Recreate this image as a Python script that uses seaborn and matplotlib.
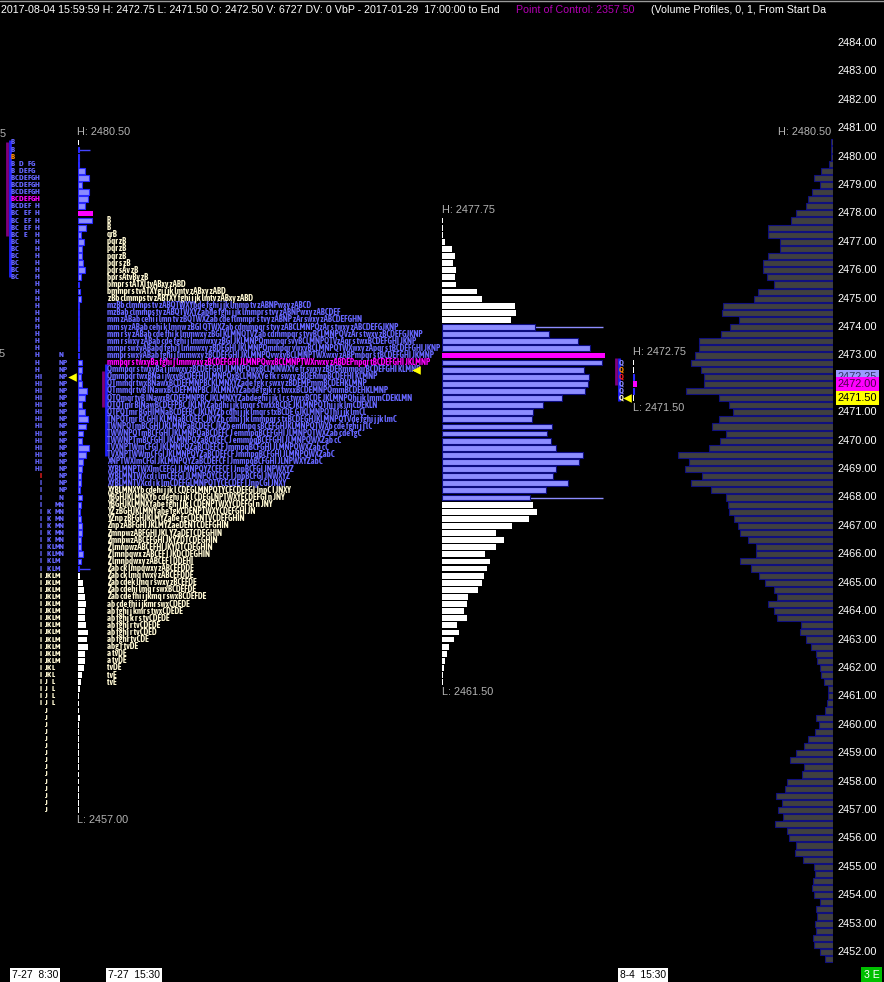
import numpy as np
import pandas as pd
import matplotlib.pyplot as plt
import seaborn as sns
from matplotlib import font_manager
from matplotlib.font_manager import FontProperties
from matplotlib.colors import to_rgba

# canvas in pixels; price scale (2484 at y=43, 2452 at y=952)
W, H = 884, 982
PPX = (952 - 43) / 32.0
Y_TOP = 2484 + 43 / PPX
Y_BOT = Y_TOP - H / PPX

installed = {f.name for f in font_manager.fontManager.ttflist}
SANS = 'Liberation Sans' if 'Liberation Sans' in installed else 'DejaVu Sans'

# ---------------- data ----------------
# right-hand composite volume profile, 2480.50 down to 2451.75 by 0.25
right_top = 2480.50
right_vol = [2, 2, 2, 4, 12, 19, 13, 21, 25, 27, 37, 42,
             65, 65, 53, 53, 65, 70, 70, 66, 59, 75, 79, 110,
             111, 94, 103, 112, 134, 134, 138, 142, 132, 129, 129, 147,
             114, 104, 100, 114, 121, 107, 113, 124, 155, 144, 148, 131,
             142, 122, 107, 105, 104, 99, 95, 93, 85, 77, 77, 93,
             82, 74, 68, 59, 56, 65, 59, 56, 32, 33, 27, 22,
             17, 16, 13, 12, 9, 5, 5, 6, 8, 17, 14, 18,
             25, 29, 37, 43, 29, 31, 46, 48, 57, 51, 55, 50,
             58, 46, 44, 37, 38, 30, 19, 18, 20, 21, 19, 13,
             17, 16, 18, 17, 20, 19, 13, 8]

# middle volume profile, 2477.75 down to 2461.50
mid_top = 2477.75
mid_vol = [1, 1, 1, 3, 10, 13, 11, 14, 13, 14, 35, 40,
           73, 74, 69, 93, 107, 136, 148, 163, 160, 142, 147, 146,
           143, 120, 101, 91, 90, 110, 105, 109, 114, 141, 137, 114,
           111, 126, 104, 88, 91, 95, 87, 70, 54, 62, 54, 43,
           48, 45, 42, 40, 36, 26, 25, 22, 25, 15, 17, 12,
           7, 5, 3, 2, 1, 1]
mid_va = (2468.00, 2474.00)
mid_poc = 2473.00

# left session volume profile, 2480.50 down to 2457.00
left_top = 2480.50
left_vol = [1, 1, 1, 1, 7, 11, 4, 11, 10, 7, 15,
            14, 8, 3, 6, 4, 4, 5, 7, 3, 1, 1.5, 2.5,
            1, 1, 1, 1, 1, 1, 1, 1, 4, 4, 3, 4,
            9, 7, 4, 7, 10, 8, 5, 4, 11, 8, 5, 4,
            3, 2.5, 2, 4, 2.5, 1.7, 2.5, 4, 4, 3, 3, 5,
            2.5, 1, 2, 5, 6, 7, 8, 7, 7, 8, 10, 9,
            10, 7, 7, 6, 4, 3, 2, 1, 1, 1, 2,
            1, 1, 1, 1, 1, 1, 1, 1, 1, 1, 1, 1, 1]
left_va = (2465.50, 2480.25)
left_poc = 2478.00

# last session (8-4) mini profile
small_top = 2472.75
small_vol = [1, 1, 1, 4, 1, 1]
small_va = (2471.75, 2472.25)
small_poc = 2472.00

# left session TPO letters, columns B C D E F G H I J K L M N P
left_tpo = (["B", "B", "B", "B D FG", "B DEFG"] + ["BCDEFGH"] * 4 +
            ["BCDEF H", "BC EF H", "BC EF H", "BC EF H", "BC E  H"] +
            ["BC    H"] * 6 + ["      H"] * 10 +
            ["      H     N", "      H     NP", "      H     NP"] +
            ["      HI    NP"] * 14 + ["       I    NP"] * 3 +
            ["       I    N", "       I   MN"] + ["       I K MN"] * 5 +
            ["       I KLMN"] * 2 + ["       I KLM"] * 2 +
            ["       IJKLM"] * 13 + ["       IJKL"] * 2 +
            ["       IJ L"] * 4 + ["        J"] * 15)
left_tpo_va = (2465.50, 2480.50)
left_tpo_poc = 2478.50

# composite TPO rows, 2477.75 down to 2461.50
mid_tpo = [
    "B", "B", "qrB", "pqr zB", "pqr zB", "pqr zB", "pqr s zB", "pqr sAv zB",
    "bpr sAtvBy zB",
    "bmpr s tATXI tvABxy zABD",
    "bmmpr s tvATXYgi j jk lmtv zABxy zABD",
    " zBb clmmps tv zABTXY fghi j jk lmtv zABxy zABD",
    "mzBb clmmps tv zABQTWXYbde fghi j jk lmmp tv zABNPwxy zABCD",
    "mzBab clmmps tv zABQTWXYZabde fghi j jk lmmpr s tvy zABNPwxy zABCDEF",
    "mm zABab cehi i lmn tv zBQTWXZab cde flmmpr s tvy zABNP zAr swxy zABCDEFGHN",
    "mm sy zABab cehi k lmnw zBGI QTWXZab cdmmpqr s tvy zABCLMNPQzAr s twxy zABCDEFGJKNP",
    "mm r sy zABab cde fhi k lmmwxy zBGI KLMNQTVZab cdmmpqr s tvyBCLMNPQVzAr s twxy zBCDEFGJKNP",
    "mm r swxy zABab cde fghi j lmmwxy zBGI JKLMNPQmmpqr svyBCLMNPQTVzAqr s twxBCDEFGHI JKNP",
    "mmpr swxyABabd fghi j lmmwxy zBDEGHI JKLMNPQmmpqr vwxyBCLMNPQTWXwxy zApqr s tBCDEFGHI JKNP",
    "mmpr swxyABab fghi j lmmwxy zBCDEFGHI JKLMNPQvwxyBCLMNPTWXwxy zABPmpqr s tBCDEFGHI JKMNP",
    "mmpqr s twxyBa fghi j lmmwxy zBCDEFGHI JLMNPQwxBCLMNPTWXrwxy zABDEPnpqr tBCDEFGHI JKLMNP",
    "Qmmpqr s twxyBa i jmwxy zBCDEFGHI JLMNPQwxBCLMNWXYe fr swxy zBDERmmpqrBCDEFGHI KLMNP",
    "Qmmpqr twxBNa i jwxyBCDEFHIJLMNPQxBCLMNXYe fk r swxy zBDERmpBCDEFHI KLMNP",
    "QTmmqr twxBNawxBCDEFMNPBCKLMNXYZade fgk r swxy zBDEMPmmBCDEHKLMNP",
    "QTmmqr tvB INawxBCDEFMNPBC JKLMNXYZabde fgjk r s twxxBCDEMNPQmmBCDEHKLMNP",
    "QTQmqr tvB INawxBCDEFMNPBC JKLMNXYZabdeghi j jk l r s twxxBCDE JKLMNPQhi jk lmmCDEKLMN",
    "QTQTmr BINawBCDEFPBC JKLNYZabdhi j jk lmqr s twxxBCDE JKLMNPQThi j jk lmCDEKLN",
    "QTPQTmr BGHIMNaBCDEFBC JKLNYZb cdhi j jk lmqr s txBCDE GJKLMNPQThi j jk lmCL",
    "TNPQTmr BCGHI KLMNaBCDEFC JKYZb cdhi j jk lmmpqr s txBCDEGHJKLMNPQTVde fghi j jk lmC",
    "TWNPQTmBCGHI JKLMNPaBCDEFC JKZb emmpq sBCEFGHJKLMNPQTWXb cde fghi j j lC",
    "TWWNPQTmBCFGHI JKLMNPQaBCDEFC J emmpqBCEFGHI JLMNPQTWXZab cde fgC",
    "TWWNPTmBCFGHI JKLMNPQZaBCDEFC J emmpqBCEFGHI JLMNPQWXZab cC",
    "TVXNPTWmCFGI JKLMNPQZaBCDEFCF JmmpqBCFGHI JLMNPQWXZab cC",
    "TVXNPTWWmCFGI JKLMNPQYZaBCDEFCF JmmpqBCFGHI JLMNPQWXZabC",
    "XNPTWXImCFGI JKLMNPQYZaBCDEFCF I JmmpqBCFGHI JLNPWXYZabC",
    "XYBLMNPTWXImCEFGI JLMNPQYZCEFCF I JnpBCFGI JNPWXYZ",
    "XYBLMNTWXcd i lmCEFGI JLMNPQYCECF I JnpBCFGI JNWXYZ",
    "XYBLMNTVXcd i k lmCDEFGLMNPQTYCECDEF I JnpCGI JNXY",
    "XYBLMNXYb cdehi j jk l CDEGLMNPQTYCECDEFGI JnpC I JNXY",
    "YBGHJKLMNXYb cdeghi j jk l CDEGLNPTWXYECDEFGI n JNY",
    "YBGHJKLMNXYabe fghi j jk l CDENPTWXYCDEFGI n JNY",
    "YZ zBGHJKLMNYabe fgkCDENPTWXYCDEFGHI JN",
    "YZnp zBFGHJKLMYZabe fgCDENTVCDEFGHIN",
    "Znp zABFGHI JKLMYZaeDENTCDEFGHIN",
    "ZmnpwzABFGHI JKL YZaDETCDEGHIN",
    "ZmnpwzABCEFGHI JKYZDTCDEGHIN",
    "Z lmnpwzABCEFHI JKYDTCDEGHIN",
    "Z lmnpqwx zABCEF I JKDCDEGHIN",
    "Z lmnpqwxy zABCEF I DDEHI",
    "Zab ck lmpqwxy zABCEFDDE",
    "Zab ck lmq rwxy zABCEFDDE",
    "Zab cdek lmq r swxy zBCEFDE",
    "Zab cdehi lmq r swxBCDEFDE",
    "Zab cde fhi i jkmq r swxBCDEFDE",
    "ab cde fhi i jkmr swxCDEDE",
    "ab fghi j kmr s twxCDEDE",
    "ab fghj k r s tvCDEDE",
    "ab fghj r tvCDEDE",
    "ab fghj r tvCDED",
    "ab fghr tvCDE",
    "abg r tvDE",
    "a tvDE", "a tvDE", "tvDE", "tvE", "tvE"]
mid_tpo_va = (2468.50, 2474.75)
mid_tpo_poc = 2472.75
MID_TPO_WIDTH = 324   # pixel width of the POC row in the reference

# last session TPO
small_tpo = ["Q", "Q", "Q", "Q", "Q", "Q"]
small_tpo_colors = ['#8c8cff', '#ff8c00', '#ff2020', '#8c8cff', '#8c8cff', '#fff8d2']

# high / low labels: (x, high, low)
hl_labels = [(77, 2480.50, 2457.00), (442, 2477.75, 2461.50), (633, 2472.75, 2471.50)]

price_ticks = list(range(2452, 2485))
time_labels = [(12, '7-27  8:30'), (108, '7-27  15:30'), (620, '8-4  15:30')]

# ---------------- drawing ----------------
sns.set_theme(style='dark', rc={'axes.facecolor': 'black', 'figure.facecolor': 'black'})

# a narrow bold face for the dense TPO letters, if one is installed
narrow = [f for f in font_manager.fontManager.ttflist
          if ('condensed' in str(f.stretch) or 'Narrow' in f.name or 'Condensed' in f.name)
          and f.style == 'normal']
narrow.sort(key=lambda f: (str(f.weight) not in ('bold', '700'), f.name))
if narrow:
    TPO_FONT = FontProperties(fname=narrow[0].fname)
else:
    TPO_FONT = FontProperties(family=SANS, weight='bold')
HEAD_FONT = FontProperties(family=SANS)

BLUE_TXT = '#6666ff'
PALE = '#fff8d2'
LAV = '#8c8cff'
MAG = '#ff00ff'

fig = plt.figure(figsize=(W / 100, H / 100), dpi=100)
fig.patch.set_facecolor('black')
ax = fig.add_axes([0, 0, 1, 1])
ax.set_xlim(0, W)
ax.set_ylim(Y_BOT, Y_TOP)
ax.axis('off')


def profile(x0, span, top, vols, va, poc, colors, edges, height, leftward=False):
    prices = top - 0.25 * np.arange(len(vols))
    zone = np.where(prices == poc, 'poc',
                    np.where((prices >= va[0]) & (prices <= va[1]), 'va', 'out'))
    df = pd.DataFrame({'price': prices, 'vol': vols, 'zone': zone})
    a = fig.add_axes([x0 / W, 0, span / W, 1])
    a.patch.set_alpha(0)
    sns.barplot(data=df, x='vol', y='price', hue='zone', palette=colors, orient='y',
                native_scale=True, dodge=False, width=height, errorbar=None,
                saturation=1, legend=False, ax=a)
    for p in a.patches:
        for k, c in colors.items():
            if np.allclose(p.get_facecolor(), to_rgba(c)):
                if edges[k] is None:
                    p.set_linewidth(0)
                else:
                    p.set_edgecolor(edges[k])
                    p.set_linewidth(0.8)
    a.set_xlim((span, 0) if leftward else (0, span))
    a.set_ylim(Y_BOT, Y_TOP)
    a.axis('off')
    return a


profile(676, 157, right_top, right_vol, (0, 0), 0,
        {'out': '#404040'}, {'out': '#10107e'}, 0.86, leftward=True)
profile(442, 170, mid_top, mid_vol, mid_va, mid_poc,
        {'out': 'white', 'va': LAV, 'poc': MAG},
        {'out': None, 'va': '#0c0c80', 'poc': None}, 0.82)
profile(78, 24, left_top, left_vol, left_va, left_poc,
        {'out': 'white', 'va': LAV, 'poc': MAG},
        {'out': None, 'va': '#2a2aff', 'poc': None}, 0.82)
profile(633, 8, small_top, small_vol, small_va, small_poc,
        {'out': 'white', 'va': LAV, 'poc': MAG},
        {'out': None, 'va': '#2a2aff', 'poc': None}, 0.82)

# value area lines
ax.hlines(list(mid_va), 442, 603, color=LAV, lw=1)
ax.hlines(list(left_va), 78, 90, color='#4444ff', lw=1)

# range lines next to the TPO columns
ax.vlines(10, 2475.75, 2480.60, color='#2020ff', lw=2)
ax.vlines(7, 2477.20, 2480.50, color='#800080', lw=2)
ax.vlines(106, 2469.45, 2472.70, color='#2020ff', lw=2)
ax.vlines(103, 2471.20, 2472.45, color='#800080', lw=2)
ax.vlines(618.5, 2471.40, 2472.90, color='#2020ff', lw=2)
ax.vlines(615.5, 2471.95, 2472.90, color='#800080', lw=2)

# left session TPO letters in fixed columns
for i, row in enumerate(left_tpo):
    price = left_top - 0.25 * i
    if price == left_tpo_poc:
        col = MAG
    elif left_tpo_va[0] <= price <= left_tpo_va[1]:
        col = BLUE_TXT
    else:
        col = PALE
    for k, ch in enumerate(row):
        if ch == ' ':
            continue
        c = col
        if price == 2480.00 and k == 0:
            c = '#ff8c00'
        if price == 2468.75 and ch == 'I':
            c = '#ff2020'
        ax.text(13 + 4 * k, price, ch, color=c, fontproperties=TPO_FONT, fontsize=6,
                ha='center', va='center')

# composite TPO rows: size the face so the POC row spans the reference width
renderer = fig.canvas.get_renderer()
probe = ax.text(0, 0, mid_tpo[int(round((mid_top - mid_tpo_poc) / 0.25))],
                fontproperties=TPO_FONT, fontsize=10)
probe_w = probe.get_window_extent(renderer).width
probe.remove()
tpo_size = 10 * MID_TPO_WIDTH / probe_w

for i, row in enumerate(mid_tpo):
    price = mid_top - 0.25 * i
    if price == mid_tpo_poc:
        col = MAG
    elif mid_tpo_va[0] <= price <= mid_tpo_va[1]:
        col = BLUE_TXT
    else:
        col = PALE
    ax.text(107, price, row, color=col, fontproperties=TPO_FONT, fontsize=tpo_size,
            ha='left', va='center')

for i, (q, c) in enumerate(zip(small_tpo, small_tpo_colors)):
    ax.text(621, small_top - 0.25 * i, q, color=c, fontproperties=TPO_FONT, fontsize=6,
            ha='center', va='center')

# yellow markers at the last price
ax.scatter([72, 416, 627], [2472.25, 2472.50, 2471.50], marker='<', s=38,
           color='#ffff00', linewidths=0, zorder=5)

# high / low labels
for x, hi, lo in hl_labels:
    ax.text(x, hi + 0.36, f'H: {hi:.2f}', color='#b4b4b4', fontsize=7.8, family=SANS,
            ha='left', va='center')
    ax.text(x, lo - 0.36, f'L: {lo:.2f}', color='#b4b4b4', fontsize=7.8, family=SANS,
            ha='left', va='center')
ax.text(778, right_top + 0.36, f'H: {right_top:.2f}', color='#b4b4b4', fontsize=7.8,
        family=SANS, ha='left', va='center')
ax.text(0, 2480.78, '5', color='#b4b4b4', fontsize=7.8, family=SANS, va='center')
ax.text(-1, 2473.05, '5', color='#b4b4b4', fontsize=7.8, family=SANS, va='center')

# price scale
for v in price_ticks:
    ax.text(838, v, f'{v:.2f}', color='white', fontsize=7.9, family=SANS,
            ha='left', va='center')
ax.text(838, 2472.25, '2472.25', color='#303060', fontsize=7.9, family=SANS, va='center',
        bbox=dict(boxstyle='square,pad=0.15', fc='#9a9aff', ec='none'), zorder=6)
ax.text(838, 2472.00, '2472.00', color='#4a004a', fontsize=7.9, family=SANS, va='center',
        bbox=dict(boxstyle='square,pad=0.15', fc=MAG, ec='none'), zorder=7)
ax.text(838, 2471.50, '2471.50', color='black', fontsize=7.9, family=SANS, va='center',
        bbox=dict(boxstyle='square,pad=0.15', fc='#ffff00', ec='none'), zorder=7)

# header line
hy = 1 - 10 / H
fig.text(1 / W, hy, '2017-08-04 15:59:59 H: 2472.75 L: 2471.50 O: 2472.50 V: 6727 DV: 0 '
         'VbP - 2017-01-29  17:00:00 to End', color='white', fontproperties=HEAD_FONT,
         fontsize=7.7, va='center')
fig.text(516 / W, hy, 'Point of Control: 2357.50', color='#b400b4',
         fontproperties=HEAD_FONT, fontsize=7.7, va='center')
fig.text(651 / W, hy, '(Volume Profiles, 0, 1, From Start Da', color='white',
         fontproperties=HEAD_FONT, fontsize=7.7, va='center')
fig.add_artist(plt.Line2D([0, 1], [1 - 0.5 / H, 1 - 0.5 / H], color='#9a9a9a', lw=1))

# time axis
ty = 1 - 975 / H
for x, lab in time_labels:
    fig.text(x / W, ty, lab, color='black', fontproperties=HEAD_FONT, fontsize=7.4,
             va='center', bbox=dict(boxstyle='square,pad=0.2', fc='white', ec='none'))
fig.text(864 / W, ty, '3 E', color='white', fontproperties=HEAD_FONT, fontsize=7.6,
         va='center', bbox=dict(boxstyle='square,pad=0.25', fc='#00c000', ec='none'))

plt.savefig('out.png', dpi=100, facecolor='black')
